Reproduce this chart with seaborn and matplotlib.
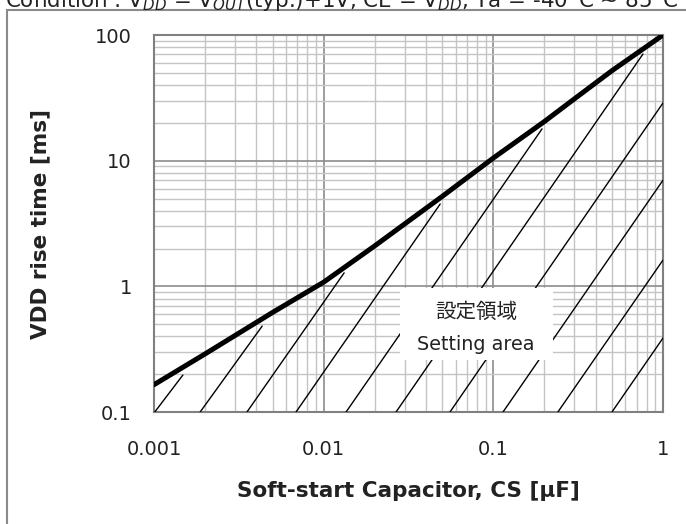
"""VDD rise time vs soft-start capacitor"""

import numpy as np
import pandas as pd
import matplotlib
matplotlib.use("Agg")
import matplotlib.pyplot as plt
import matplotlib.ticker as mticker
from matplotlib.patches import Rectangle
import seaborn as sns

# main curve (CS [uF] -> VDD rise time [ms])
cs_uf = [0.001, 0.002, 0.005, 0.01, 0.02, 0.05, 0.1, 0.2, 0.3, 0.5, 1.0]
rise_ms = [0.165, 0.29, 0.62, 1.08, 2.1, 5.2, 10.5, 20.5, 31.0, 52.0, 100.0]

# hatching of the setting area (start on the 0.1 ms line, end at curve / edge)
hatch_x_start = [0.00101, 0.00187, 0.00353, 0.00687, 0.01355, 0.0267, 0.0555, 0.114, 0.240, 0.500]
hatch_x_end = [0.00148, 0.00434, 0.0132, 0.0486, 0.1936, 0.762, 1.0, 1.0, 1.0, 1.0]
hatch_y_end = [0.197, 0.483, 1.28, 4.52, 17.9, 70.6, 28.8, 7.0, 1.62, 0.388]

x_ticks = [0.001, 0.01, 0.1, 1]
x_ticklabels = ["0.001", "0.01", "0.1", "1"]
y_ticks = [0.1, 1, 10, 100]
y_ticklabels = ["0.1", "1", "10", "100"]

sns.set_style("white")
plt.rcParams["font.family"] = ["DejaVu Sans", "Noto Sans CJK JP"]

curve = pd.DataFrame({"cs": cs_uf, "t": rise_ms})
rows = []
for i in range(len(hatch_x_start)):
    rows.append({"seg": i, "cs": hatch_x_start[i], "t": 0.1})
    rows.append({"seg": i, "cs": hatch_x_end[i], "t": hatch_y_end[i]})
hatch = pd.DataFrame(rows)

fig = plt.figure(figsize=(6.86, 5.24), dpi=100)
ax = fig.add_axes([0.2245, 0.2137, 0.742, 0.7195])

# outer chart frame (cropped in the original)
fig.patches.append(Rectangle((0.0102, -0.2), 1.5, 1.181, transform=fig.transFigure,
                             fill=False, ec="#8a8a8a", lw=1.5))
fig.text(0.008, 0.9857, "Condition : V$_{DD}$ = V$_{OUT}$(typ.)+1V, CE = V$_{DD}$, Ta = -40°C ~ 85°C",
         fontsize=15.4, va="baseline", ha="left", color="#222222")

sns.lineplot(data=hatch, x="cs", y="t", units="seg", estimator=None,
             color="black", lw=1.0, ax=ax, zorder=3)
sns.lineplot(data=curve, x="cs", y="t", color="black", lw=3.6, ax=ax, zorder=5)

ax.set_xscale("log")
ax.set_yscale("log")
ax.set_xlim(0.001, 1)
ax.set_ylim(0.1, 100)
ax.set_xticks(x_ticks)
ax.set_xticklabels(x_ticklabels)
ax.set_yticks(y_ticks)
ax.set_yticklabels(y_ticklabels)
ax.xaxis.set_minor_locator(mticker.LogLocator(base=10, subs=range(2, 10)))
ax.yaxis.set_minor_locator(mticker.LogLocator(base=10, subs=range(2, 10)))
ax.xaxis.set_minor_formatter(mticker.NullFormatter())
ax.yaxis.set_minor_formatter(mticker.NullFormatter())

ax.grid(which="major", color="#8c8c8c", lw=1.2)
ax.grid(which="minor", color="#c4c4c4", lw=1.0)
ax.set_axisbelow(True)
ax.tick_params(which="both", direction="in", length=5, color="#808080", labelsize=14,
               labelcolor="#222222")
ax.tick_params(axis="y", which="major", pad=16)
ax.tick_params(axis="x", which="major", pad=20)
for s in ax.spines.values():
    s.set_color("#808080")
    s.set_linewidth(1.5)

ax.set_xlabel("Soft-start Capacitor, CS [μF]", fontsize=15.5, fontweight="bold", labelpad=16,
              color="#222222")
ax.set_ylabel("VDD rise time [ms]", fontsize=15.5, fontweight="bold", labelpad=32,
              color="#222222")

# white label box over the hatching
ax.add_patch(Rectangle((0.483, 0.138), 0.301, 0.191, transform=ax.transAxes,
                       fc="white", ec="none", zorder=6))
ax.text(0.633, 0.265, "設定領域", transform=ax.transAxes, ha="center", va="center",
        fontsize=14.8, color="#222222", zorder=7)
ax.text(0.633, 0.178, "Setting area", transform=ax.transAxes, ha="center", va="center",
        fontsize=13.8, color="#222222", zorder=7)

fig.savefig("out.png", dpi=100)
